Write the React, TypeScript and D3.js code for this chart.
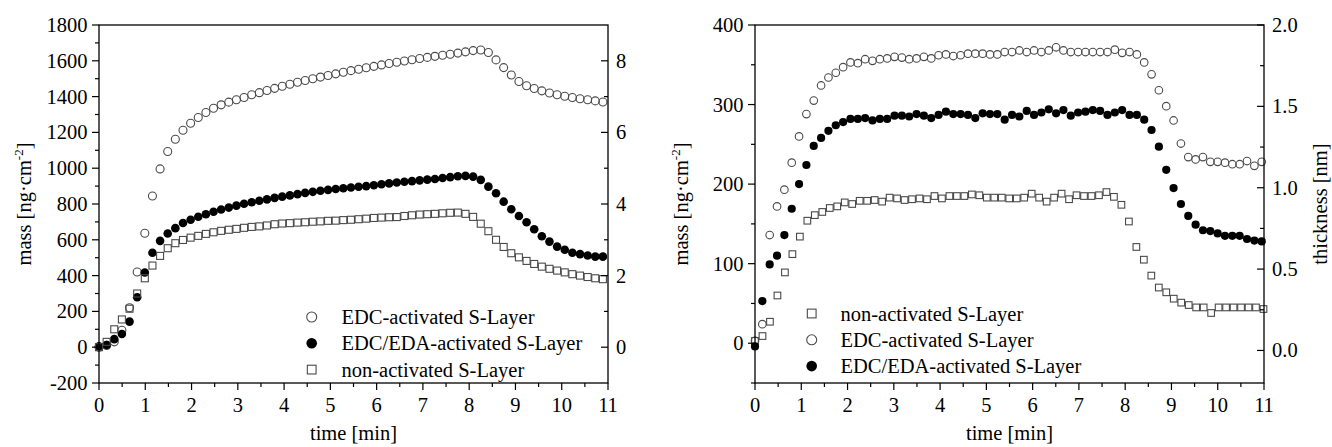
import React from 'react';
import * as d3 from 'd3';

// ---------- data (mass in ng/cm^2, sampled at a constant step in minutes) ----------
const leftStep = 0.165;
const leftEdc = [0, 10, 30, 95, 220, 420, 637, 845, 996, 1093, 1162, 1212, 1251, 1283, 1311, 1335, 1354, 1369, 1382,
  1395, 1410, 1422, 1434, 1446, 1458, 1469, 1480, 1490, 1500, 1509, 1518, 1527, 1536, 1545, 1553, 1561, 1569, 1577,
  1585, 1592, 1599, 1606, 1613, 1619, 1625, 1631, 1637, 1643, 1650, 1657, 1660, 1646, 1605, 1562, 1521, 1484, 1461,
  1445, 1432, 1420, 1410, 1402, 1395, 1388, 1382, 1376, 1370];
const leftEdcEda = [5, 12, 45, 74, 143, 279, 417, 528, 594, 635, 665, 694, 712, 729, 743, 757, 769, 780, 791, 801,
  810, 818, 826, 834, 841, 848, 855, 862, 868, 874, 879, 884, 888, 892, 896, 900, 905, 910, 915, 920, 924, 928, 932,
  936, 940, 945, 950, 955, 957, 953, 935, 897, 860, 813, 771, 733, 698, 659, 620, 590, 562, 544, 528, 520, 512, 506, 506];
const leftNon = [0, 30, 100, 155, 215, 300, 385, 456, 510, 553, 581, 599, 612, 622, 633, 642, 650, 656, 661, 667,
  672, 675, 680, 687, 691, 693, 696, 698, 701, 703, 706, 707, 710, 712, 715, 718, 722, 724, 726, 727, 733, 737, 741,
  743, 745, 748, 751, 752, 745, 728, 690, 648, 600, 560, 525, 502, 482, 465, 450, 438, 428, 418, 408, 400, 392, 385, 380];

const rightStep = 0.1587;
const rightNonStep = 0.1616;
const rightEdc = [3, 24, 136, 172, 193, 227, 260, 288, 305, 324, 334, 340, 347, 353, 352, 357, 355, 357, 358, 360,
  359, 357, 358, 360, 358, 362, 363, 361, 362, 364, 364, 364, 363, 363, 366, 366, 368, 366, 368, 366, 368, 372, 368,
  366, 366, 366, 366, 366, 366, 369, 365, 366, 363, 353, 338, 318, 298, 280, 251, 234, 231, 234, 228, 228, 227, 225,
  225, 229, 223, 228];
const rightEdcEda = [-4, 53, 99, 110, 136, 169, 200, 224, 248, 258, 267, 274, 278, 282, 282, 283, 280, 282, 282, 286,
  286, 285, 288, 286, 283, 287, 291, 288, 288, 287, 283, 289, 288, 288, 281, 287, 285, 292, 287, 290, 294, 289, 293,
  286, 290, 291, 293, 292, 287, 290, 293, 287, 287, 281, 268, 247, 218, 195, 175, 160, 149, 142, 141, 138, 135, 135,
  135, 131, 129, 128];
const rightNon = [3, 9, 27, 60, 89, 112, 134, 154, 161, 165, 170, 172, 177, 175, 179, 179, 180, 178, 183, 182, 180,
  181, 182, 181, 185, 182, 185, 185, 185, 187, 186, 183, 183, 183, 182, 182, 183, 188, 183, 178, 183, 188, 181, 186,
  185, 185, 186, 190, 184, 174, 153, 121, 105, 85, 70, 64, 56, 51, 48, 45, 45, 38, 45, 45, 45, 45, 45, 45, 43];

// ---------- ticks / labels ----------
const timeTicks = [0, 1, 2, 3, 4, 5, 6, 7, 8, 9, 10, 11];
const timeMinor = [0.5, 1.5, 2.5, 3.5, 4.5, 5.5, 6.5, 7.5, 8.5, 9.5, 10.5];
const leftMassTicks = [-200, 0, 200, 400, 600, 800, 1000, 1200, 1400, 1600, 1800];
const leftMassMinor = [-100, 100, 300, 500, 700, 900, 1100, 1300, 1500, 1700];
const leftThickTicks = [0, 2, 4, 6, 8];
const leftThickMinor = [1, 3, 5, 7];
const rightMassTicks = [0, 100, 200, 300, 400];
const rightMassMinor = [-50, 50, 150, 250, 350];
const rightThickTicks = [0.0, 0.5, 1.0, 1.5, 2.0];
const rightThickMinor = [0.25, 0.75, 1.25, 1.75];

const leftLegend = ['EDC-activated S-Layer', 'EDC/EDA-activated S-Layer', 'non-activated S-Layer'];
const rightLegend = ['non-activated S-Layer', 'EDC-activated S-Layer', 'EDC/EDA-activated S-Layer'];

const FONT = '"Liberation Serif", "Times New Roman", serif';
const GREY = '#4a4a4a';

type Kind = 'open' | 'filled' | 'square';

function Marker({ kind, x, y, r }: { kind: Kind; x: number; y: number; r: number }) {
  if (kind === 'square') {
    const s = r * 1.75;
    return <rect x={x - s / 2} y={y - s / 2} width={s} height={s} fill="white" fillOpacity={0} stroke={GREY} strokeWidth={1.1} />;
  }
  if (kind === 'open') {
    return <circle cx={x} cy={y} r={r} fill="none" stroke={GREY} strokeWidth={1.1} />;
  }
  return <circle cx={x} cy={y} r={r + 0.3} fill="black" />;
}

type Series = { values: number[]; step: number; kind: Kind };

function Panel(props: {
  x0: number; x1: number; yTop: number; yBot: number;
  massDomain: [number, number]; thickDomain: [number, number];
  massTicks: number[]; massMinor: number[]; thickTicks: number[]; thickMinor: number[];
  thickFmt: (v: number) => string;
  series: Series[]; r: number;
  legend: string[]; legendKinds: Kind[]; legendX: number; legendY: number; legendTextX: number;
  massTitleX: number; thickTitleX?: number;
}) {
  const p = props;
  const x = d3.scaleLinear().domain([0, 11]).range([p.x0, p.x1]);
  const y = d3.scaleLinear().domain(p.massDomain).range([p.yBot, p.yTop]);
  const yt = d3.scaleLinear().domain(p.thickDomain).range([p.yBot, p.yTop]);
  const major = 7, minor = 4;
  const midY = (p.yTop + p.yBot) / 2;
  return (
    <g fontFamily={FONT} fill="black">
      {p.series.map((s, si) => (
        <g key={si}>
          {s.values.map((v, i) => (
            <Marker key={i} kind={s.kind} x={x(i * s.step)} y={y(v)} r={p.r} />
          ))}
        </g>
      ))}
      <rect x={p.x0} y={p.yTop} width={p.x1 - p.x0} height={p.yBot - p.yTop} fill="none" stroke="black" strokeWidth={1.3} />
      {/* bottom axis */}
      {timeTicks.map(t => (
        <g key={'bt' + t}>
          <line x1={x(t)} x2={x(t)} y1={p.yBot} y2={p.yBot + major} stroke="black" strokeWidth={1.2} />
          <text x={x(t)} y={p.yBot + 29} textAnchor="middle" fontSize={20.5}>{t}</text>
        </g>
      ))}
      {timeMinor.map(t => (
        <line key={'bm' + t} x1={x(t)} x2={x(t)} y1={p.yBot} y2={p.yBot + minor} stroke="black" strokeWidth={1.2} />
      ))}
      {/* left axis */}
      {p.massTicks.map(t => (
        <g key={'lt' + t}>
          <line x1={p.x0 - major} x2={p.x0} y1={y(t)} y2={y(t)} stroke="black" strokeWidth={1.2} />
          <text x={p.x0 - 11.5} y={y(t) + 7} textAnchor="end" fontSize={20.5}>{t}</text>
        </g>
      ))}
      {p.massMinor.map(t => (
        <line key={'lm' + t} x1={p.x0 - minor} x2={p.x0} y1={y(t)} y2={y(t)} stroke="black" strokeWidth={1.2} />
      ))}
      {/* right axis */}
      {p.thickTicks.map(t => (
        <g key={'rt' + t}>
          <line x1={p.x1 - major} x2={p.x1} y1={yt(t)} y2={yt(t)} stroke="black" strokeWidth={1.2} />
          <text x={p.x1 + 8} y={yt(t) + 7} textAnchor="start" fontSize={20.5}>{p.thickFmt(t)}</text>
        </g>
      ))}
      {p.thickMinor.map(t => (
        <line key={'rm' + t} x1={p.x1 - minor} x2={p.x1} y1={yt(t)} y2={yt(t)} stroke="black" strokeWidth={1.2} />
      ))}
      {/* titles */}
      <text x={(p.x0 + p.x1) / 2} y={p.yBot + 57} textAnchor="middle" fontSize={20.5}>time [min]</text>
      <text transform={`translate(${p.massTitleX},${midY}) rotate(-90)`} textAnchor="middle" fontSize={20.5}>
        mass [ng·cm<tspan dy={-8} fontSize={13}>-2</tspan><tspan dy={8}>]</tspan>
      </text>
      {p.thickTitleX !== undefined && (
        <text transform={`translate(${p.thickTitleX},${midY}) rotate(-90)`} textAnchor="middle" fontSize={20.5}>thickness [nm]</text>
      )}
      {/* legend */}
      {p.legend.map((l, i) => (
        <g key={'lg' + i}>
          <Marker kind={p.legendKinds[i]} x={p.legendX} y={p.legendY + i * 26.3} r={5} />
          <text x={p.legendTextX} y={p.legendY + i * 26.3 + 7} fontSize={20.5}>{l}</text>
        </g>
      ))}
    </g>
  );
}

export default function App() {
  return (
    <svg width={1332} height={447} style={{ position: 'fixed', left: 0, top: 0, background: 'white' }}>
      <rect width={1332} height={447} fill="white" />
      <Panel
        x0={99} x1={608} yTop={25} yBot={383}
        massDomain={[-200, 1800]} thickDomain={[-1, 9]}
        massTicks={leftMassTicks} massMinor={leftMassMinor}
        thickTicks={leftThickTicks} thickMinor={leftThickMinor}
        thickFmt={v => String(v)}
        series={[
          { values: leftEdc, step: leftStep, kind: 'open' },
          { values: leftEdcEda, step: leftStep, kind: 'filled' },
          { values: leftNon, step: leftStep, kind: 'square' },
        ]}
        r={4}
        legend={leftLegend} legendKinds={['open', 'filled', 'square']}
        legendX={311.7} legendY={317} legendTextX={341.5}
        massTitleX={31}
      />
      <Panel
        x0={755} x1={1264} yTop={25} yBot={383}
        massDomain={[-50, 400]} thickDomain={[-0.2, 2.0]}
        massTicks={rightMassTicks} massMinor={rightMassMinor}
        thickTicks={rightThickTicks} thickMinor={rightThickMinor}
        thickFmt={v => d3.format('.1f')(v)}
        series={[
          { values: rightNon, step: rightNonStep, kind: 'square' },
          { values: rightEdc, step: rightStep, kind: 'open' },
          { values: rightEdcEda, step: rightStep, kind: 'filled' },
        ]}
        r={3.8}
        legend={rightLegend} legendKinds={['square', 'open', 'filled']}
        legendX={811.7} legendY={313.5} legendTextX={840.5}
        massTitleX={688} thickTitleX={1327}
      />
    </svg>
  );
}
